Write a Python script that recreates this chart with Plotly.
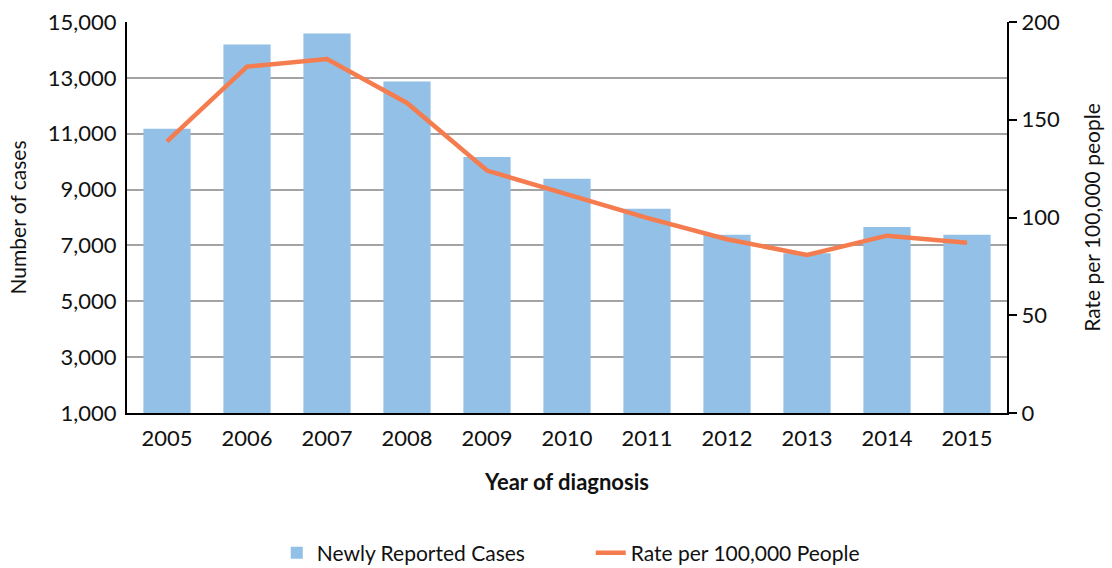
import plotly.graph_objects as go

years = ["2005", "2006", "2007", "2008", "2009", "2010", "2011", "2012", "2013", "2014", "2015"]
cases = [11180, 14190, 14590, 12870, 10170, 9390, 8310, 7380, 6720, 7660, 7380]
rate = [138.9, 177.2, 181.1, 158.6, 124.0, 112.0, 99.8, 88.9, 80.8, 90.7, 87.1]

FONT = "Lato"
fig = go.Figure()
fig.add_trace(go.Bar(
    x=years, y=cases, name="Newly Reported Cases",
    marker=dict(color="#92C0E6", line=dict(width=0)),
    yaxis="y",
))
fig.add_trace(go.Scatter(
    x=years, y=rate, name="Rate per 100,000 People",
    mode="lines", line=dict(color="#F47C4E", width=4.5),
    yaxis="y2",
))

fig.update_layout(
    width=1112, height=568,
    margin=dict(l=127, r=105, t=22, b=155, autoexpand=False),
    paper_bgcolor="white", plot_bgcolor="white",
    font=dict(family=FONT, size=22, color="#111111"),
    bargap=0.41,
    showlegend=True,
    legend=dict(orientation="h", x=0.527, xref="paper", xanchor="center",
                yref="container", y=(568 - 553) / 568, yanchor="middle",
                font=dict(size=21), entrywidth=269, entrywidthmode="pixels",
                tracegroupgap=0),
    xaxis=dict(
        showline=True, linecolor="black", linewidth=2,
        ticks="outside", ticklen=5, tickcolor="rgba(0,0,0,0)",
        title=dict(text="<b>Year of diagnosis</b>", font=dict(size=22), standoff=24),
        tickfont=dict(size=22), automargin=False,
    ),
    yaxis=dict(
        range=[1000, 15000], dtick=2000, tick0=1000, tickformat=",",
        showline=True, linecolor="black", linewidth=2,
        ticks="outside", ticklen=4, tickcolor="rgba(0,0,0,0)",
        showgrid=True, gridcolor="#A3A3A3", gridwidth=1.5,
        title=dict(text="Number of cases", font=dict(size=21), standoff=15),
        tickfont=dict(size=22), zeroline=False, automargin=False,
    ),
    yaxis2=dict(
        range=[0, 200], dtick=50, overlaying="y", side="right",
        showline=True, linecolor="black", linewidth=2,
        ticks="outside", ticklen=8, tickwidth=2, tickcolor="black",
        showgrid=False, zeroline=False,
        title=dict(text="Rate per 100,000 people", font=dict(size=21), standoff=26),
        tickfont=dict(size=22), automargin=False,
    ),
)

fig.write_html("out.html")
